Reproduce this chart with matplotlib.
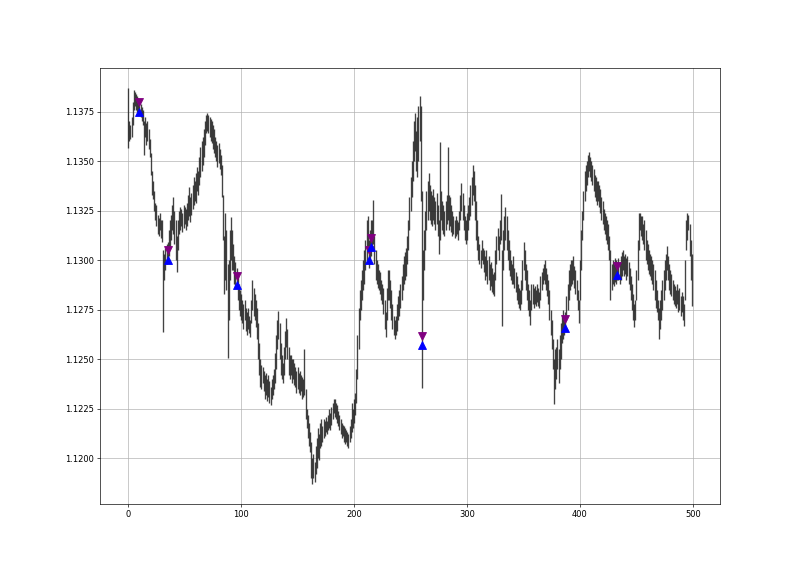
import matplotlib
matplotlib.use('Agg')
import matplotlib.pyplot as plt
import numpy as np

# bar lows / highs (500 bars)
low = [
    1.13566, 1.13600, 1.13610, 1.13620, 1.13680, 1.13760, 1.13780, 1.13760, 1.13750, 1.13740,
    1.13745, 1.13720, 1.13700, 1.13680, 1.13530, 1.13620, 1.13580, 1.13600, 1.13560, 1.13520,
    1.13430, 1.13330, 1.13310, 1.13250, 1.13200, 1.13170, 1.13130, 1.13120, 1.13150, 1.13110,
    1.13090, 1.12635, 1.12900, 1.12950, 1.12980, 1.13000, 1.13020, 1.13060, 1.13100, 1.13150,
    1.13130, 1.13080, 1.13000, 1.12940, 1.13050, 1.13130, 1.13150, 1.13170, 1.13140, 1.13160,
    1.13180, 1.13150, 1.13170, 1.13200, 1.13220, 1.13190, 1.13230, 1.13260, 1.13280, 1.13300,
    1.13290, 1.13350, 1.13330, 1.13380, 1.13420, 1.13450, 1.13480, 1.13520, 1.13580, 1.13640,
    1.13650, 1.13640, 1.13620, 1.13600, 1.13590, 1.13560, 1.13540, 1.13520, 1.13500, 1.13470,
    1.13490, 1.13460, 1.13430, 1.13320, 1.13100, 1.12830, 1.12900, 1.12850, 1.12508, 1.12700,
    1.12900, 1.13000, 1.12950, 1.12950, 1.12880, 1.12860, 1.12860, 1.12800, 1.12750, 1.12720,
    1.12700, 1.12680, 1.12650, 1.12700, 1.12640, 1.12620, 1.12650, 1.12630, 1.12610, 1.12680,
    1.12750, 1.12720, 1.12700, 1.12660, 1.12600, 1.12500, 1.12420, 1.12360, 1.12350, 1.12380,
    1.12340, 1.12300, 1.12320, 1.12290, 1.12310, 1.12280, 1.12270, 1.12300, 1.12320, 1.12350,
    1.12380, 1.12450, 1.12550, 1.12600, 1.12500, 1.12420, 1.12400, 1.12380, 1.12420, 1.12500,
    1.12560, 1.12500, 1.12420, 1.12400, 1.12420, 1.12380, 1.12400, 1.12370, 1.12360, 1.12330,
    1.12350, 1.12330, 1.12320, 1.12340, 1.12300, 1.12310, 1.12320, 1.12200, 1.12150, 1.12100,
    1.12060, 1.12030, 1.11900, 1.11870, 1.11900, 1.11880, 1.11920, 1.11950, 1.12000, 1.11990,
    1.12050, 1.12060, 1.12080, 1.12100, 1.12110, 1.12130, 1.12120, 1.12140, 1.12150, 1.12140,
    1.12170, 1.12200, 1.12230, 1.12210, 1.12200, 1.12180, 1.12160, 1.12140, 1.12120, 1.12100,
    1.12110, 1.12080, 1.12070, 1.12080, 1.12060, 1.12050, 1.12080, 1.12100, 1.12130, 1.12150,
    1.12180, 1.12220, 1.12280, 1.12400, 1.12550, 1.12700, 1.12750, 1.12800, 1.12850, 1.12880,
    1.12950, 1.13000, 1.13050, 1.12960, 1.13000, 1.13020, 1.13050, 1.13080, 1.12980, 1.12900,
    1.12880, 1.12860, 1.12850, 1.12830, 1.12800, 1.12780, 1.12730, 1.12650, 1.12610, 1.12700,
    1.12800, 1.12800, 1.12760, 1.12700, 1.12650, 1.12620, 1.12600, 1.12620, 1.12640, 1.12700,
    1.12720, 1.12760, 1.12800, 1.12850, 1.12880, 1.12900, 1.12920, 1.12980, 1.13050, 1.13150,
    1.13250, 1.13320, 1.13400, 1.13500, 1.13550, 1.13450, 1.13420, 1.13500, 1.13600, 1.13300,
    1.12354, 1.12800, 1.12950, 1.13050, 1.13150, 1.13200, 1.13250, 1.13200, 1.13180, 1.13170,
    1.13200, 1.13180, 1.13150, 1.13180, 1.13120, 1.13030, 1.13100, 1.13200, 1.13150, 1.13130,
    1.13120, 1.13150, 1.13180, 1.13200, 1.13150, 1.13170, 1.13140, 1.13120, 1.13130, 1.13110,
    1.13120, 1.13130, 1.13100, 1.13150, 1.13200, 1.13250, 1.13200, 1.13150, 1.13100, 1.13080,
    1.13100, 1.13150, 1.13200, 1.13220, 1.13280, 1.13330, 1.13300, 1.13200, 1.13100, 1.13050,
    1.13000, 1.12980, 1.12960, 1.13000, 1.12980, 1.12940, 1.12900, 1.12920, 1.12880, 1.12900,
    1.12850, 1.12870, 1.12840, 1.12830, 1.12820, 1.12900, 1.12980, 1.13050, 1.13000, 1.13080,
    1.13100, 1.12669, 1.12950, 1.13050, 1.13100, 1.13050, 1.13000, 1.12950, 1.12920, 1.12900,
    1.12880, 1.12880, 1.12860, 1.12840, 1.12800, 1.12780, 1.12760, 1.12750, 1.12780, 1.12850,
    1.12950, 1.12900, 1.12850, 1.12800, 1.12750, 1.12720, 1.12670, 1.12750, 1.12780, 1.12760,
    1.12780, 1.12770, 1.12790, 1.12770, 1.12760, 1.12800, 1.12850, 1.12880, 1.12900, 1.12880,
    1.12850, 1.12820, 1.12780, 1.12700, 1.12620, 1.12550, 1.12450, 1.12272, 1.12350, 1.12400,
    1.12450, 1.12380, 1.12450, 1.12500, 1.12580, 1.12600, 1.12620, 1.12650, 1.12700, 1.12750,
    1.12800, 1.12850, 1.12870, 1.12880, 1.12900, 1.12860, 1.12830, 1.12800, 1.12750, 1.12680,
    1.12800, 1.12950, 1.13100, 1.13200, 1.13300, 1.13350, 1.13380, 1.13420, 1.13450, 1.13420,
    1.13400, 1.13380, 1.13350, 1.13320, 1.13300, 1.13280, 1.13300, 1.13270, 1.13240, 1.13200,
    1.13180, 1.13150, 1.13130, 1.13100, 1.13080, 1.13050, 1.13000, 1.12800, 1.12850, 1.12880,
    1.12870, 1.12890, 1.12880, 1.12900, 1.12900, 1.12880, 1.12900, 1.12920, 1.12950, 1.12920,
    1.12930, 1.12900, 1.12920, 1.12880, 1.12850, 1.12800, 1.12750, 1.12700, 1.12660, 1.12700,
    1.12800, 1.12900, 1.13050, 1.13150, 1.13120, 1.13100, 1.13080, 1.13050, 1.13000, 1.12980,
    1.12950, 1.12930, 1.12920, 1.12900, 1.12880, 1.12850, 1.12800, 1.12760, 1.12740, 1.12700,
    1.12603, 1.12650, 1.12700, 1.12750, 1.12800, 1.12850, 1.12900, 1.12950, 1.12900, 1.12850,
    1.12830, 1.12820, 1.12800, 1.12780, 1.12770, 1.12760, 1.12780, 1.12740, 1.12750, 1.12720,
    1.12740, 1.12700, 1.12667, 1.12800, 1.13050, 1.13100, 1.13150, 1.13020, 1.12900, 1.12770,
]

high = [
    1.13870, 1.13700, 1.13680, 1.13720, 1.13800, 1.13860, 1.13850, 1.13840, 1.13830, 1.13820,
    1.13805, 1.13790, 1.13775, 1.13760, 1.13700, 1.13720, 1.13690, 1.13700, 1.13660, 1.13610,
    1.13540, 1.13450, 1.13400, 1.13350, 1.13290, 1.13280, 1.13230, 1.13210, 1.13240, 1.13200,
    1.13200, 1.13050, 1.13030, 1.13060, 1.13080, 1.13090, 1.13150, 1.13200, 1.13230, 1.13280,
    1.13320, 1.13250, 1.13200, 1.13120, 1.13200, 1.13250, 1.13270, 1.13260, 1.13240, 1.13280,
    1.13270, 1.13260, 1.13290, 1.13330, 1.13370, 1.13320, 1.13340, 1.13380, 1.13420, 1.13400,
    1.13440, 1.13470, 1.13450, 1.13520, 1.13570, 1.13600, 1.13620, 1.13660, 1.13700, 1.13730,
    1.13740, 1.13730, 1.13720, 1.13710, 1.13700, 1.13680, 1.13660, 1.13620, 1.13600, 1.13580,
    1.13590, 1.13560, 1.13530, 1.13480, 1.13330, 1.13120, 1.13240, 1.13150, 1.12980, 1.13000,
    1.13150, 1.13218, 1.13150, 1.13080, 1.13020, 1.12990, 1.12960, 1.12920, 1.12880, 1.12850,
    1.12830, 1.12800, 1.12780, 1.12800, 1.12760, 1.12740, 1.12760, 1.12720, 1.12700, 1.12800,
    1.12897, 1.12860, 1.12830, 1.12800, 1.12760, 1.12680, 1.12580, 1.12500, 1.12470, 1.12460,
    1.12440, 1.12420, 1.12430, 1.12400, 1.12420, 1.12390, 1.12360, 1.12400, 1.12420, 1.12450,
    1.12530, 1.12620, 1.12700, 1.12745, 1.12680, 1.12580, 1.12520, 1.12480, 1.12560, 1.12640,
    1.12710, 1.12650, 1.12560, 1.12520, 1.12520, 1.12500, 1.12500, 1.12480, 1.12460, 1.12440,
    1.12460, 1.12430, 1.12440, 1.12420, 1.12410, 1.12400, 1.12550, 1.12350, 1.12250, 1.12220,
    1.12180, 1.12130, 1.12080, 1.12000, 1.12020, 1.11980, 1.12060, 1.12100, 1.12150, 1.12120,
    1.12180, 1.12200, 1.12160, 1.12200, 1.12190, 1.12210, 1.12190, 1.12220, 1.12250, 1.12230,
    1.12260, 1.12280, 1.12300, 1.12300, 1.12280, 1.12270, 1.12240, 1.12220, 1.12200, 1.12180,
    1.12170, 1.12160, 1.12150, 1.12140, 1.12130, 1.12120, 1.12160, 1.12200, 1.12280, 1.12250,
    1.12300, 1.12330, 1.12450, 1.12620, 1.12760, 1.12850, 1.12900, 1.12950, 1.13000, 1.13050,
    1.13100, 1.13200, 1.13220, 1.13100, 1.13150, 1.13200, 1.13200, 1.13302, 1.13120, 1.13050,
    1.13000, 1.12980, 1.12950, 1.12940, 1.12900, 1.12880, 1.12860, 1.12800, 1.12740, 1.12860,
    1.12950, 1.12950, 1.12900, 1.12850, 1.12780, 1.12720, 1.12700, 1.12720, 1.12780, 1.12820,
    1.12850, 1.12880, 1.12920, 1.12980, 1.13020, 1.13040, 1.13060, 1.13120, 1.13200, 1.13320,
    1.13420, 1.13500, 1.13600, 1.13700, 1.13740, 1.13650, 1.13720, 1.13780, 1.13826, 1.13780,
    1.13350, 1.13050, 1.13150, 1.13250, 1.13350, 1.13400, 1.13440, 1.13380, 1.13350, 1.13330,
    1.13360, 1.13320, 1.13300, 1.13340, 1.13280, 1.13200, 1.13598, 1.13350, 1.13300, 1.13280,
    1.13250, 1.13300, 1.13330, 1.13573, 1.13330, 1.13320, 1.13280, 1.13250, 1.13220, 1.13200,
    1.13220, 1.13200, 1.13190, 1.13250, 1.13330, 1.13390, 1.13340, 1.13280, 1.13220, 1.13200,
    1.13240, 1.13280, 1.13320, 1.13380, 1.13420, 1.13480, 1.13450, 1.13380, 1.13300, 1.13200,
    1.13120, 1.13080, 1.13050, 1.13100, 1.13060, 1.13050, 1.13020, 1.13050, 1.13000, 1.13020,
    1.12980, 1.12990, 1.12960, 1.12930, 1.12940, 1.13050, 1.13120, 1.13160, 1.13120, 1.13200,
    1.13334, 1.13050, 1.13150, 1.13220, 1.13270, 1.13220, 1.13150, 1.13100, 1.13050, 1.13000,
    1.12980, 1.13020, 1.12960, 1.12940, 1.12920, 1.12880, 1.12860, 1.12850, 1.12900, 1.13000,
    1.13090, 1.13050, 1.12980, 1.12950, 1.12880, 1.12850, 1.12800, 1.12880, 1.12880, 1.12860,
    1.12870, 1.12850, 1.12880, 1.12860, 1.12840, 1.12920, 1.12940, 1.12960, 1.12980, 1.13000,
    1.12960, 1.12930, 1.12900, 1.12850, 1.12750, 1.12700, 1.12600, 1.12500, 1.12550, 1.12560,
    1.12600, 1.12550, 1.12620, 1.12680, 1.12720, 1.12750, 1.12720, 1.12740, 1.12820, 1.12880,
    1.12950, 1.12980, 1.13000, 1.13000, 1.13020, 1.12970, 1.12950, 1.12900, 1.12850, 1.12800,
    1.13000, 1.13150, 1.13250, 1.13350, 1.13450, 1.13480, 1.13500, 1.13530, 1.13547, 1.13520,
    1.13500, 1.13480, 1.13460, 1.13430, 1.13420, 1.13400, 1.13400, 1.13380, 1.13360, 1.13320,
    1.13300, 1.13260, 1.13240, 1.13220, 1.13200, 1.13180, 1.13120, 1.13050, 1.12980, 1.13000,
    1.12980, 1.13010, 1.13000, 1.12990, 1.13010, 1.12990, 1.13020, 1.13040, 1.13050, 1.13020,
    1.13030, 1.13010, 1.13020, 1.12990, 1.12960, 1.12920, 1.12880, 1.12830, 1.12780, 1.12800,
    1.12950, 1.13100, 1.13240, 1.13240, 1.13220, 1.13220, 1.13180, 1.13200, 1.13150, 1.13100,
    1.13080, 1.13050, 1.13030, 1.13020, 1.13000, 1.12980, 1.12950, 1.12900, 1.12850, 1.12800,
    1.12760, 1.12800, 1.12850, 1.12900, 1.12950, 1.13000, 1.13030, 1.13069, 1.13020, 1.12980,
    1.12950, 1.12930, 1.12900, 1.12880, 1.12870, 1.12850, 1.12880, 1.12850, 1.12860, 1.12820,
    1.12840, 1.12820, 1.12780, 1.13000, 1.13200, 1.13240, 1.13230, 1.13180, 1.13100, 1.13030,
]

# signal bars and marker levels
signal_bars = [10, 35, 96, 213, 215, 260, 387, 433]
bearish_marks = [1.13796, 1.13049, 1.12919, 1.13049, 1.13110, 1.12617, 1.12703, 1.12968]
bullish_marks = [1.13750, 1.13002, 1.12875, 1.13002, 1.13066, 1.12571, 1.12657, 1.12924]

fig, ax = plt.subplots(figsize=(800 / 60, 566 / 60), dpi=60)

bars = np.arange(len(low))
ax.vlines(bars, low, high, color='#222222', linewidth=1.6, alpha=0.85)

ax.plot(signal_bars, bearish_marks, 'v', color='purple', markersize=9, linestyle='none')
ax.plot(signal_bars, bullish_marks, '^', color='blue', markersize=9, linestyle='none')

ax.grid()

plt.savefig('out.png', dpi=60)
